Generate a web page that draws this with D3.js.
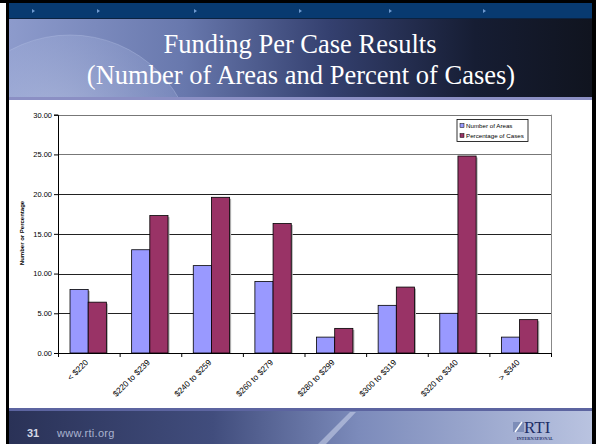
<!DOCTYPE html>
<html>
<head>
<meta charset="utf-8">
<script src="https://cdn.jsdelivr.net/npm/d3@7"></script>
<style>
  html, body { margin: 0; padding: 0; background: #fff; }
  svg { display: block; }
</style>
</head>
<body>
<svg id="slide"></svg>
<script>
// dados do grafico
const categories = ["< $220", "$220 to $239", "$240 to $259", "$260 to $279", "$280 to $299", "$300 to $319", "$320 to $340", "> $340"]
const numberOfAreas = [8, 13, 11, 9, 2, 6, 5, 2]
const percentOfCases = [6.4, 17.3, 19.6, 16.3, 3.1, 8.3, 24.8, 4.2]
const seriesNames = ["Number of Areas", "Percentage of Cases"]
const seriesColors = ["#9999ff", "#993366"]
const yTicks = [0, 5, 10, 15, 20, 25, 30]
const arrowXs = [32, 97, 194, 299, 389, 483]

const W = 596, H = 444
const svg = d3.select("#slide").attr("width", W).attr("height", H)
const defs = svg.append("defs")

// ---------- fundo do slide ----------
svg.append("rect").attr("width", W).attr("height", H).attr("fill", "#fff")

// cabecalho
const hg = defs.append("linearGradient").attr("id", "hdr")
hg.append("stop").attr("offset", "0%").attr("stop-color", "#8d9bcc")
hg.append("stop").attr("offset", "30%").attr("stop-color", "#6878ad")
hg.append("stop").attr("offset", "55%").attr("stop-color", "#34406f")
hg.append("stop").attr("offset", "80%").attr("stop-color", "#161d33")
hg.append("stop").attr("offset", "100%").attr("stop-color", "#10141f")

const globe = defs.append("radialGradient").attr("id", "globe")
  .attr("cx", "45%").attr("cy", "40%").attr("r", "60%")
globe.append("stop").attr("offset", "0%").attr("stop-color", "#c4cde8").attr("stop-opacity", 0.6)
globe.append("stop").attr("offset", "80%").attr("stop-color", "#9aa8d6").attr("stop-opacity", 0.35)
globe.append("stop").attr("offset", "100%").attr("stop-color", "#9aa8d6").attr("stop-opacity", 0.1)

defs.append("clipPath").attr("id", "hdrClip")
  .append("rect").attr("x", 9).attr("y", 19).attr("width", 583).attr("height", 78)

svg.append("rect").attr("x", 9).attr("y", 19).attr("width", 583).attr("height", 78).attr("fill", "url(#hdr)")
svg.append("circle").attr("clip-path", "url(#hdrClip)")
  .attr("cx", 70).attr("cy", 160).attr("r", 125).attr("fill", "url(#globe)")
svg.append("circle").attr("clip-path", "url(#hdrClip)")
  .attr("cx", 70).attr("cy", 160).attr("r", 125).attr("fill", "none")
  .attr("stroke", "#b8c2e4").attr("stroke-opacity", 0.35)

// faixa azul no topo
svg.append("rect").attr("x", 0).attr("y", 0).attr("width", W).attr("height", 3).attr("fill", "#000")
svg.append("rect").attr("x", 9).attr("y", 3).attr("width", 583).attr("height", 16).attr("fill", "#083a70")
svg.append("line").attr("x1", 9).attr("x2", 592).attr("y1", 18.5).attr("y2", 18.5).attr("stroke", "#0b2240")
svg.selectAll("path.arrow").data(arrowXs).join("path")
  .attr("class", "arrow")
  .attr("d", d => `M${d},9 L${d + 3},11 L${d},13 Z`)
  .attr("fill", "#6f9ad0")

// faixa por baixo do cabecalho
svg.append("rect").attr("x", 9).attr("y", 97).attr("width", 583).attr("height", 3).attr("fill", "#8b8fc4")

// titulo
const title = svg.append("g")
  .attr("font-family", "'Liberation Serif', 'Times New Roman', serif")
  .attr("font-size", 26.5).attr("fill", "#fff").attr("text-anchor", "middle")
title.append("text").attr("x", 300).attr("y", 53).text("Funding Per Case Results")
title.append("text").attr("x", 301).attr("y", 84).text("(Number of Areas and Percent of Cases)")

// rodape
const fg = defs.append("linearGradient").attr("id", "ftr")
fg.append("stop").attr("offset", "0%").attr("stop-color", "#2a3257")
fg.append("stop").attr("offset", "35%").attr("stop-color", "#414d7d")
fg.append("stop").attr("offset", "60%").attr("stop-color", "#7c8bbb")
fg.append("stop").attr("offset", "100%").attr("stop-color", "#b9c3e0")
svg.append("rect").attr("x", 9).attr("y", 408).attr("width", 583).attr("height", 36).attr("fill", "url(#ftr)")
svg.append("rect").attr("x", 9).attr("y", 408).attr("width", 583).attr("height", 3).attr("fill", "#5c64a0")
svg.append("path").attr("d", "M318,444 L350,412 L356,412 L326,444 Z").attr("fill", "#c6cee8").attr("opacity", 0.6)

svg.append("text").attr("x", 27).attr("y", 437)
  .attr("font-family", "'Liberation Sans', Arial, sans-serif").attr("font-weight", "bold")
  .attr("font-size", 11).attr("fill", "#d4d8e6").text("31")
svg.append("text").attr("x", 57).attr("y", 437)
  .attr("font-family", "'Liberation Sans', Arial, sans-serif")
  .attr("font-size", 11).attr("letter-spacing", 0.3).attr("fill", "#aab3cf").text("www.rti.org")

// logotipo RTI
const logo = svg.append("g")
logo.append("rect").attr("x", 513).attr("y", 422).attr("width", 11).attr("height", 10).attr("fill", "#7d8db8")
logo.append("line").attr("x1", 515).attr("y1", 432).attr("x2", 522).attr("y2", 422)
  .attr("stroke", "#fff").attr("stroke-width", 1.5)
logo.append("text").attr("x", 524).attr("y", 433)
  .attr("font-family", "'Liberation Serif', 'Times New Roman', serif")
  .attr("font-size", 17).attr("fill", "#1d2d66").text("RTI")
logo.append("text").attr("x", 535).attr("y", 440).attr("text-anchor", "middle")
  .attr("font-family", "'Liberation Serif', serif").attr("font-weight", "bold")
  .attr("font-size", 4.3).attr("fill", "#1d2d66").text("INTERNATIONAL")

// bordas pretas
svg.append("rect").attr("x", 6).attr("y", 0).attr("width", 3).attr("height", H).attr("fill", "#000")
svg.append("rect").attr("x", 592).attr("y", 0).attr("width", 4).attr("height", H).attr("fill", "#000")

// ---------- grafico ----------
const plot = { left: 58, right: 551, top: 114.7, bottom: 353 }

const x = d3.scaleBand()
  .domain(categories)
  .range([plot.left, plot.right])
  .padding(0)

const xInner = d3.scaleBand()
  .domain(seriesNames)
  .range([x.bandwidth() * 0.195, x.bandwidth() * 0.785])
  .padding(0)

const y = d3.scaleLinear()
  .domain([0, 30])
  .range([plot.bottom, plot.top])

const chart = svg.append("g").attr("font-family", "'Liberation Sans', Arial, sans-serif")

// linhas de grelha
chart.append("g").selectAll("line")
  .data(yTicks.filter(d => d > 0))
  .join("line")
  .attr("x1", plot.left).attr("x2", plot.right)
  .attr("y1", d => Math.round(y(d)) + 0.5).attr("y2", d => Math.round(y(d)) + 0.5)
  .attr("stroke", d => d >= 25 ? "#777" : "#222").attr("stroke-width", 1)

// moldura direita
chart.append("line")
  .attr("x1", plot.right + 0.5).attr("x2", plot.right + 0.5)
  .attr("y1", y(30)).attr("y2", plot.bottom)
  .attr("stroke", "#888")

// barras
const rows = categories.map((c, i) => ({ cat: c, values: [numberOfAreas[i], percentOfCases[i]] }))

const groups = chart.append("g").selectAll("g")
  .data(rows)
  .join("g")
  .attr("transform", d => `translate(${x(d.cat)},0)`)

const barData = d => d.values.map((v, j) => ({ name: seriesNames[j], value: v, color: seriesColors[j] }))

// sombra
groups.selectAll("rect.shadow")
  .data(barData)
  .join("rect")
  .attr("class", "shadow")
  .attr("x", d => xInner(d.name) + 1.5)
  .attr("y", d => y(d.value) + 1.5)
  .attr("width", xInner.bandwidth())
  .attr("height", d => plot.bottom - y(d.value) - 1.5)
  .attr("fill", "#b0b0b0")

groups.selectAll("rect.bar")
  .data(barData)
  .join("rect")
  .attr("class", "bar")
  .attr("x", d => xInner(d.name))
  .attr("y", d => y(d.value))
  .attr("width", xInner.bandwidth())
  .attr("height", d => plot.bottom - y(d.value))
  .attr("fill", d => d.color)
  .attr("stroke", "#000")
  .attr("stroke-width", 0.8)

// eixo Y
const yAxis = chart.append("g")
  .attr("transform", `translate(${plot.left},0)`)
  .call(d3.axisLeft(y).tickValues(yTicks).tickFormat(d3.format(".2f")).tickSize(4).tickPadding(2))
yAxis.select(".domain").attr("stroke", "#000")
yAxis.selectAll("line").attr("stroke", "#000")
yAxis.selectAll("text").attr("font-size", 7.5).attr("fill", "#000").attr("font-family", "'Liberation Sans', Arial, sans-serif")

// eixo X - marcas entre categorias
const xEdges = d3.scaleLinear().domain([0, categories.length]).range([plot.left, plot.right])
const xAxisTicks = chart.append("g")
  .attr("transform", `translate(0,${plot.bottom})`)
  .call(d3.axisBottom(xEdges).tickValues(d3.range(categories.length + 1)).tickFormat("").tickSize(4).tickSizeOuter(0))
xAxisTicks.select(".domain").attr("stroke", "#000")
xAxisTicks.selectAll("line").attr("stroke", "#000")

// eixo X - rotulos
const xAxis = chart.append("g")
  .attr("transform", `translate(0,${plot.bottom})`)
  .call(d3.axisBottom(x).tickSize(0).tickPadding(0))
xAxis.select(".domain").remove()
xAxis.selectAll("text")
  .attr("font-size", 8.3)
  .attr("fill", "#000")
  .attr("font-family", "'Liberation Sans', Arial, sans-serif")
  .attr("text-anchor", "end")
  .attr("dy", 0)
  .attr("y", 0)
  .attr("transform", "translate(0,10) rotate(-45)")

// titulo do eixo Y
chart.append("text")
  .attr("transform", "translate(24,233) rotate(-90)")
  .attr("text-anchor", "middle")
  .attr("font-size", 6).attr("font-weight", "bold")
  .text("Number or Percentage")

// legenda
const legend = chart.append("g").attr("transform", "translate(457,119.5)")
legend.append("rect").attr("width", 71).attr("height", 22)
  .attr("fill", "#fff").attr("stroke", "#000").attr("stroke-width", 0.8)
const li = legend.selectAll("g.item").data(seriesNames).join("g")
  .attr("class", "item")
  .attr("transform", (d, i) => `translate(3,${5 + i * 10})`)
li.append("rect").attr("width", 4).attr("height", 4).attr("y", -1)
  .attr("fill", (d, i) => seriesColors[i]).attr("stroke", "#000").attr("stroke-width", 0.5)
li.append("text").attr("x", 6).attr("y", 3).attr("font-size", 6.2).text(d => d)
</script>
</body>
</html>
